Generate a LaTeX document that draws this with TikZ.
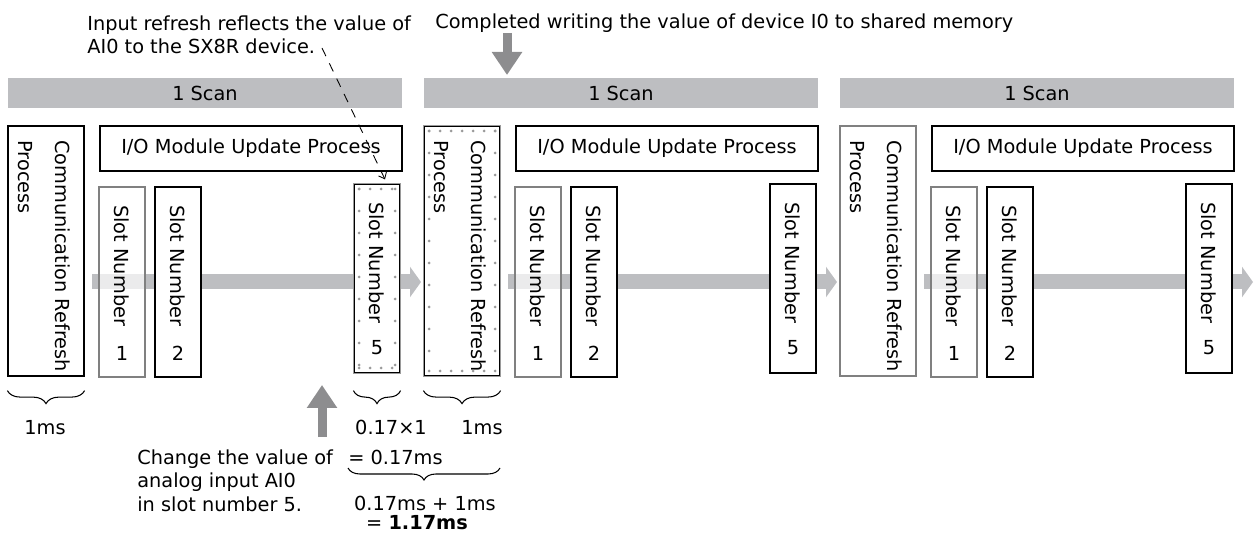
\documentclass[tikz,border=0pt]{standalone}
\usepackage{fontspec}
\setmainfont{DejaVu Sans}
\usetikzlibrary{arrows.meta,decorations.pathreplacing,fit}

\definecolor{bargray}{HTML}{BDBEC1}
\definecolor{fatgray}{HTML}{8D8D8F}
\definecolor{dotgray}{HTML}{9A9A9A}

\tikzset{
	scanbar/.style={fill=bargray, inner sep=0pt},
	procbox/.style={draw, fill=white, line width=0.7pt, inner sep=0pt},
	vtext/.style={rotate=-90, anchor=west, inner sep=0pt},
	band/.style={bargray, line width=0.3cm, -{Triangle[length=0.22cm, width=0.6cm]}},
	fatarrow/.style={fatgray, line width=0.18cm, -{Triangle[length=0.46cm, width=0.58cm]}},
	refarrow/.style={line width=0.5pt, dash pattern=on 0.18cm off 0.16cm, -{Straight Barb[length=3pt, width=5pt]}},
	timebrace/.style={decorate, decoration={brace, amplitude=0.26cm}, line width=0.6pt},
	dot/.style={fill=dotgray},
}

\begin{document}
\begin{tikzpicture}[x=0.02cm, y=-0.02cm, font=\fontsize{11}{13.4}\selectfont]
	\useasboundingbox (0,0) rectangle (1254,540);

	%scans
	\foreach \s/\o/\cc in {a/0/black, b/416/black, c/832/gray}{
		%scan bar
		\node[scanbar, fit={(8+\o,78) (402+\o,108)}] (scan\s) {};
		\node (scant\s) at (scan\s.center) {1 Scan};
		%band behind the boxes
		\coordinate (bin\s) at (92+\o,282);
		\coordinate (bout\s) at (421+\o,282);
		\draw[band] (bin\s) -- (bout\s);
		%communication refresh
		\node[procbox, draw=\cc, fit={(8+\o,126) (84+\o,376)}] (comm\s) {};
		\node[vtext] (commt\s) at (63+\o,140) {Communication Refresh};
		\node[vtext] (commp\s) at (25+\o,140) {Process};
		%I/O update
		\node[procbox, fit={(100+\o,126) (402+\o,171)}] (io\s) {};
		\node (iot\s) at (io\s.center) {I/O Module Update Process};
		%slots
		\node[procbox, draw=gray, fill opacity=0.7, fit={(99+\o,187) (145+\o,377)}] (slot1\s) {};
		\node[procbox, fit={(155+\o,187) (201+\o,377)}] (slot2\s) {};
		\node[procbox, fit={(354+\o,184) (400+\o,373)}] (slot5\s) {};
		\node[vtext] (slt1\s) at (122+\o,205) {Slot Number};
		\node[vtext] (slt2\s) at (178+\o,205) {Slot Number};
		\node[vtext] (slt5\s) at (377+\o,202) {Slot Number};
		\node (num1\s) at (122+\o,353) {1};
		\node (num2\s) at (178+\o,353) {2};
		\node (num5\s) at (377+\o,348) {5};
	}

	%dotted frames
	\draw[dotgray, line width=0.7pt] (slot5a.north west) rectangle (slot5a.south east);
	\draw[dotgray, line width=0.7pt] (commb.north west) rectangle (commb.south east);
	\foreach \x in {359,370,...,395}{
		\fill[dot] (\x,189) circle[radius=1.5];
		\fill[dot] (\x,368) circle[radius=1.5];
	}
	\foreach \y in {189,211,...,368}{
		\fill[dot] (359,\y) circle[radius=1.5];
		\fill[dot] (395,\y) circle[radius=1.5];
	}
	\foreach \x in {429,440,...,495}{
		\fill[dot] (\x,131) circle[radius=1.5];
		\fill[dot] (\x,371) circle[radius=1.5];
	}
	\foreach \y in {131,153,...,371}{
		\fill[dot] (429,\y) circle[radius=1.5];
		\fill[dot] (495,\y) circle[radius=1.5];
	}

	%notes
	\node[anchor=north west, align=left, inner sep=0pt] (reflect) at (87,15) {Input refresh reflects the value of\\AI0 to the SX8R device.};
	\node[anchor=base west, inner sep=0pt] (written) at (435,29) {Completed writing the value of device I0 to shared memory};
	\node[anchor=north west, align=left, inner sep=0pt] (change) at (137,449) {Change the value of\\analog input AI0\\in slot number 5.};

	%arrows
	\coordinate (refl) at (322,48);
	\draw[refarrow] (refl) -- ([xshift=0.16cm, yshift=0.08cm]slot5a.north);
	\coordinate (wtail) at (507,33);
	\coordinate (wtip) at (507,75);
	\draw[fatarrow] (wtail) -- (wtip);
	\coordinate (ctail) at (322,437);
	\coordinate (ctip) at (322,385);
	\draw[fatarrow] (ctail) -- (ctip);

	%braces
	\draw[timebrace] ([yshift=-0.28cm]comma.south east) -- ([yshift=-0.28cm]comma.south west);
	\draw[timebrace] ([yshift=-0.34cm]slot5a.south east) -- ([yshift=-0.34cm]slot5a.south west);
	\draw[timebrace] ([yshift=-0.28cm]commb.south east) -- ([yshift=-0.28cm]commb.south west);
	\coordinate (sumr) at (500,468);
	\coordinate (suml) at (348,468);
	\draw[timebrace, decoration={amplitude=0.24cm}] (sumr) -- (suml);

	%times
	\node[anchor=base] (ta) at (45,434) {1ms};
	\node[anchor=base] (tslot) at (391,434) {0.17×1};
	\node[anchor=base] (tb) at (482,434) {1ms};
	\node[anchor=base west, inner sep=0pt] (tslotsum) at (348,464) {= 0.17ms};
	\node[anchor=base] (tsum) at (425,510) {0.17ms + 1ms};
	\node[anchor=base] (ttotal) at (417,529) {= \textbf{1.17ms}};
\end{tikzpicture}
\end{document}
